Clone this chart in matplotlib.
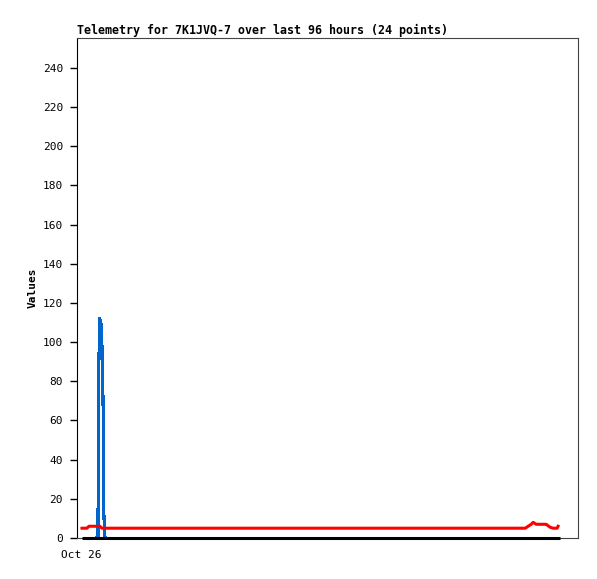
import matplotlib
matplotlib.use("Agg")
import matplotlib.pyplot as plt

# hours since start of window (0..96)
blue_hours = [3.0, 3.22, 3.23, 3.38, 3.5, 3.8, 4.0, 4.22, 4.32, 4.5, 4.7]
blue_vals = [0, 0, 28, 84, 112, 110, 100, 72, 24, 0, 0]

red_hours = [0, 1.0, 1.4, 3.6, 4.0, 89.0, 90.2, 90.6, 91.2, 93.2, 94.0, 94.6, 95.4, 95.6]
red_vals = [5, 5, 6, 6, 5, 5, 7, 8, 7, 7, 5.5, 5, 5, 6]

black_hours = [0, 96]
black_vals = [0, 0]

yticks = list(range(0, 241, 20))
title = "Telemetry for 7K1JVQ-7 over last 96 hours (24 points)"

fig = plt.figure(figsize=(5.97, 5.79), dpi=100)
ax = fig.add_axes([77/597, 41/579, 501/597, 500/579])

ax.plot(blue_hours, blue_vals, color="#0066cc", lw=1.5, zorder=2, antialiased=False)
ax.plot(black_hours, black_vals, color="black", lw=2.2, solid_capstyle="butt",
        zorder=3, clip_on=False)
ax.plot(red_hours, red_vals, color="red", lw=2.2, zorder=4)

ax.set_xlim(-1.0, 99.6)
ax.set_ylim(0, 255.3)
ax.set_yticks(yticks)
ax.set_yticklabels([str(v) for v in yticks], fontsize=8, family="DejaVu Sans Mono")
ax.set_xticks([-0.2])
ax.set_xticklabels(["Oct 26"], fontsize=8, family="DejaVu Sans Mono")
ax.tick_params(axis="x", length=0, pad=9)
ax.tick_params(axis="y", length=5, width=1, direction="out", pad=5)

for s in ["top", "right", "bottom"]:
    ax.spines[s].set_color("#444444")
    ax.spines[s].set_linewidth(0.8)
ax.spines["left"].set_color("black")

ax.set_ylabel("Values", fontsize=8, family="DejaVu Sans Mono", fontweight="bold", labelpad=4)
ax.set_title(title, fontsize=8.35, family="DejaVu Sans Mono", fontweight="bold", loc="left", pad=3)

fig.savefig("out.png", dpi=100)
